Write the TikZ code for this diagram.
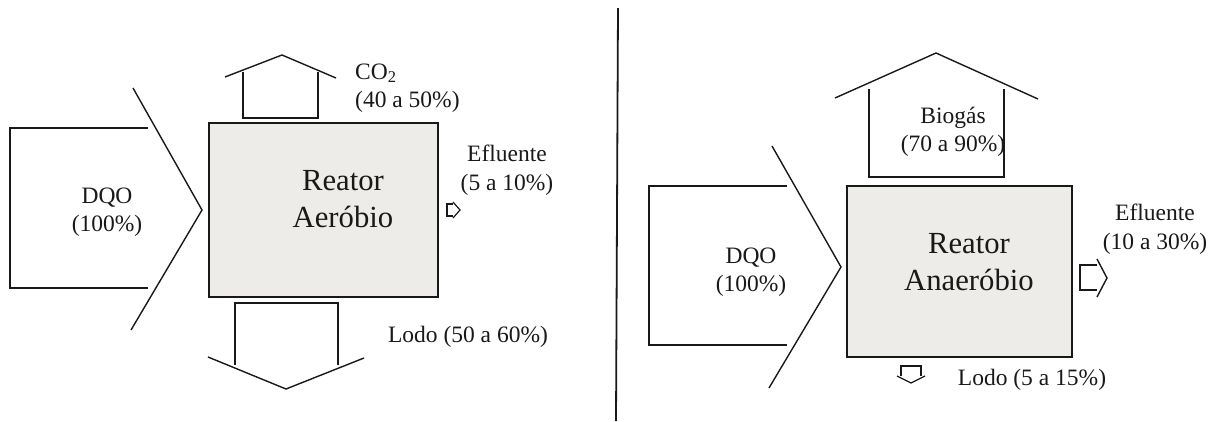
\documentclass[tikz,border=0pt]{standalone}
\usepackage{fontspec}
\setmainfont{Liberation Serif}
\definecolor{reatorfill}{RGB}{238,236,232}
\definecolor{tinta}{RGB}{25,25,25}

\begin{document}
\begin{tikzpicture}[x=1pt, y=-1pt,
  seta/.style={draw=tinta, line width=1.4pt, line join=miter},
  caixa/.style={fill=reatorfill, draw=tinta, line width=1.8pt},
  rotulo/.style={align=center, inner sep=0pt, text=tinta,
    font=\fontsize{23.5}{28.5}\selectfont},
  titulo/.style={align=center, inner sep=0pt, text=tinta,
    font=\fontsize{30.7}{37}\selectfont}]

  \useasboundingbox (0,0) rectangle (1219,421);

  % --- Divider between the two processes ---
  \draw[tinta, line width=1.8pt] (618,8) -- (616,421);

  % ===== Left: aerobic reactor =====

  % --- Reactor box ---
  \filldraw[caixa] (209,123) rectangle (438,297);
  \node[titulo] (reatorA) at (343,199) {Reator\\Aeróbio};

  % --- DQO inflow: open block + chevron head ---
  \draw[seta] (148,128) -- (10,128) -- (10,288) -- (148,288);
  \draw[seta] (133,88) -- (202,210) -- (131,330);
  \node[rotulo] (dqoA) at (107,212) {DQO\\(100\%)};

  % --- CO2 outflow, upwards ---
  \draw[seta] (243,72) -- (243,118) -- (318,118) -- (318,72);
  \draw[seta] (225,77) -- (282,55) -- (336,78);
  \node[rotulo, align=left, anchor=west] (co2) at (355,88)
    {CO\textsubscript{2}\\(40 a 50\%)};

  % --- Effluent, tiny arrow ---
  \draw[seta, line width=1.2pt] (453,204) -- (447,204) -- (447,216) -- (453,216);
  \draw[seta, line width=1.2pt] (453,202) -- (460,210) -- (453,218);
  \node[rotulo] (eflA) at (507,170) {Efluente\\(5 a 10\%)};

  % --- Sludge outflow, downwards ---
  \draw[seta] (235,365) -- (235,303) -- (338,303) -- (338,365);
  \draw[seta] (208,357) -- (286,389) -- (364,358);
  \node[rotulo] (lodoA) at (468,337) {Lodo (50 a 60\%)};

  % ===== Right: anaerobic reactor =====

  % --- Reactor box ---
  \filldraw[caixa] (847,186) rectangle (1072,357);
  \node[titulo] (reatorB) at (969,262) {Reator\\Anaeróbio};

  % --- DQO inflow ---
  \draw[seta] (787,186) -- (649,186) -- (649,345) -- (787,345);
  \draw[seta] (772,146) -- (841,267) -- (769,388);
  \node[rotulo] (dqoB) at (751,272) {DQO\\(100\%)};

  % --- Biogas outflow, upwards ---
  \draw[seta] (869,89) -- (869,177) -- (1004,177) -- (1004,89);
  \draw[seta] (835,98) -- (936,53) -- (1038,99);
  \node[rotulo] (biogas) at (953,132) {Biogás\\(70 a 90\%)};

  % --- Effluent ---
  \draw[seta] (1097,265) -- (1080,265) -- (1080,290) -- (1097,290);
  \draw[seta] (1097,259) -- (1107,278) -- (1097,297);
  \node[rotulo] (eflB) at (1155,229) {Efluente\\(10 a 30\%)};

  % --- Sludge, small arrow ---
  \draw[seta, line width=1.2pt] (901,376) -- (901,366) -- (921,366) -- (921,376);
  \draw[seta, line width=1.2pt] (897,376) -- (911,383) -- (925,376);
  \node[rotulo] (lodoB) at (1032,380) {Lodo (5 a 15\%)};

\end{tikzpicture}
\end{document}
